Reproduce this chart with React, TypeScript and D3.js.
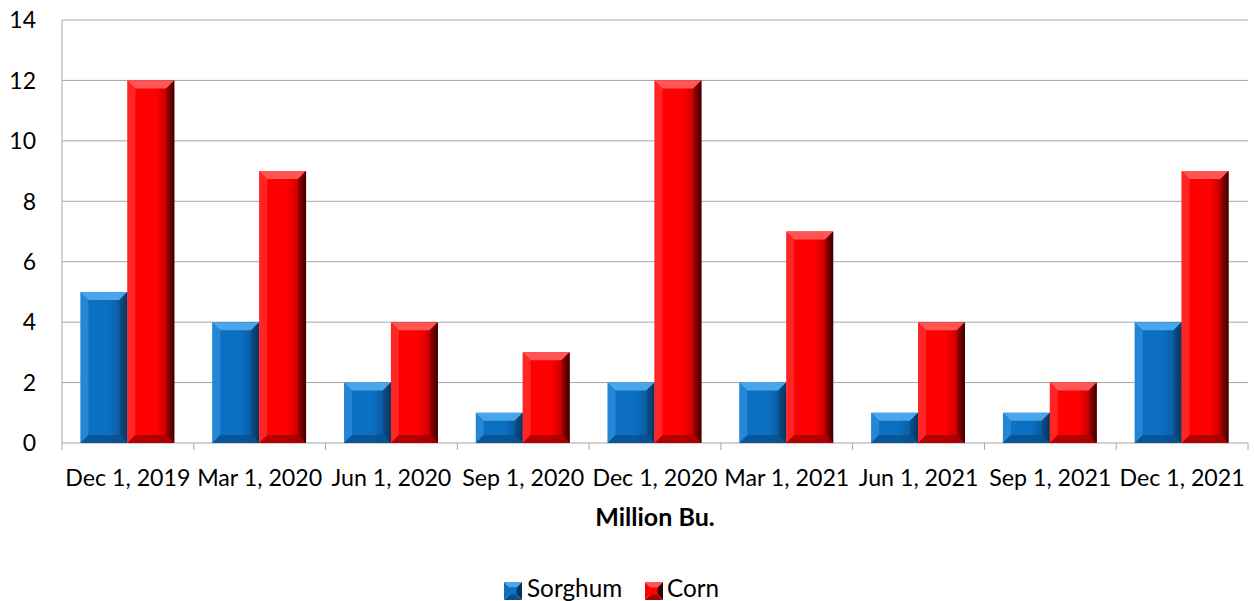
import React from "react";
import * as d3 from "d3";

const categories = ["Dec 1, 2019", "Mar 1, 2020", "Jun 1, 2020", "Sep 1, 2020", "Dec 1, 2020", "Mar 1, 2021", "Jun 1, 2021", "Sep 1, 2021", "Dec 1, 2021"];
const sorghum = [5, 4, 2, 1, 2, 2, 1, 1, 4];
const corn = [12, 9, 4, 3, 12, 7, 4, 2, 9];
const yTicks = [0, 2, 4, 6, 8, 10, 12, 14];
const seriesNames = ["Sorghum", "Corn"];

const W = 1254, H = 601;
const left = 62, right = 1248, top = 20, bottom = 443;
const FONT = "Lato, 'Open Sans', sans-serif";

const palettes = [
  { main: "#0b6fc2", light: "#3d9de6", lighter: "#4aa6ea", dark: "#0a4f8a", darker: "#07355e" },
  { main: "#ff0000", light: "#ff4a4a", lighter: "#ff5555", dark: "#a30000", darker: "#3a0000" },
];

function Bevel({ x, y, w, h, p, id }: any) {
  const b = Math.min(8, h / 2, w / 2);
  const x1 = x + w, y1 = y + h;
  const poly = (pts: number[][]) => pts.map((q) => q.join(",")).join(" ");
  return (
    <g>
      <rect x={x} y={y} width={w} height={h} fill={`url(#face${id})`} />
      <polygon points={poly([[x, y], [x1, y], [x1 - b, y + b], [x + b, y + b]])} fill={p.lighter} />
      <polygon points={poly([[x, y], [x + b, y + b], [x + b, y1 - b], [x, y1]])} fill={p.light} opacity={0.5} />
      <polygon points={poly([[x1, y], [x1, y1], [x1 - b, y1 - b], [x1 - b, y + b]])} fill={`url(#edge${id})`} />
      <polygon points={poly([[x, y1], [x + b, y1 - b], [x1 - b, y1 - b], [x1, y1]])} fill={p.dark} opacity={0.8} />
    </g>
  );
}

function LegendKey({ x, y, s, p, id }: any) {
  const poly = (pts: number[][]) => pts.map((q) => q.join(",")).join(" ");
  const c = [x + s / 2, y + s / 2];
  return (
    <g>
      <polygon points={poly([[x, y], [x + s, y], c])} fill={p.lighter} />
      <polygon points={poly([[x + s, y], [x + s, y + s], c])} fill={p.darker} />
      <polygon points={poly([[x, y + s], [x + s, y + s], c])} fill={p.dark} />
      <polygon points={poly([[x, y], [x, y + s], c])} fill={p.main} />
      <rect x={x + s * 0.3} y={y + s * 0.3} width={s * 0.4} height={s * 0.4} fill={p.main} />
    </g>
  );
}

export default function App() {
  const x = d3.scaleBand<string>().domain(categories).range([left, right]).padding(0);
  const bw = x.bandwidth();
  const inner = d3.scaleBand<string>().domain(seriesNames).range([18.5, bw - 19.5]).padding(0);
  const y = d3.scaleLinear().domain([0, 14]).range([bottom, top]);
  const data = [sorghum, corn];

  return (
    <svg width={W} height={H} style={{ position: "absolute", left: 0, top: 0 }} fontFamily={FONT}>
      <defs>
        {palettes.map((p, i) => (
          <g key={i}>
            <linearGradient id={`face${i}`} x1="0" x2="1" y1="0" y2="0">
              <stop offset="0" stopColor={p.main} />
              <stop offset="0.6" stopColor={p.main} />
              <stop offset="1" stopColor={p.dark} />
            </linearGradient>
            <linearGradient id={`edge${i}`} x1="0" x2="1" y1="0" y2="0">
              <stop offset="0" stopColor={p.dark} />
              <stop offset="1" stopColor={p.darker} />
            </linearGradient>
          </g>
        ))}
      </defs>
      <rect width={W} height={H} fill="#fff" />
      {yTicks.map((t) => (
        <g key={t}>
          <line x1={left} x2={right} y1={y(t)} y2={y(t)} stroke="#a6a6a6" strokeWidth={1} />
          <text x={36} y={y(t)} dy="0.36em" textAnchor="end" fontSize={23} fill="#000">{t}</text>
        </g>
      ))}
      <line x1={left} x2={left} y1={top} y2={bottom} stroke="#a6a6a6" />
      {categories.map((c) => (
        <line key={c} x1={x(c)!} x2={x(c)!} y1={bottom} y2={bottom + 7} stroke="#a6a6a6" />
      ))}
      <line x1={right} x2={right} y1={bottom} y2={bottom + 7} stroke="#a6a6a6" />
      {categories.map((c, i) =>
        data.map((s, j) => {
          const bx = x(c)! + inner(seriesNames[j])!;
          const by = y(s[i]);
          return <Bevel key={c + j} x={bx} y={by} w={inner.bandwidth()} h={bottom - by} p={palettes[j]} id={j} />;
        })
      )}
      {categories.map((c) => (
        <text key={c} x={x(c)! + bw / 2} y={485.5} textAnchor="middle" fontSize={23.2} fill="#000">{c}</text>
      ))}
      <text x={655} y={526} textAnchor="middle" fontSize={25} fontWeight="bold" fill="#000">Million Bu.</text>
      <g>
        <LegendKey x={504} y={582} s={18} p={palettes[0]} />
        <text x={527} y={597} fontSize={24.3} fill="#000">Sorghum</text>
        <LegendKey x={645} y={582} s={18} p={palettes[1]} />
        <text x={667} y={597} fontSize={24.3} fill="#000">Corn</text>
      </g>
    </svg>
  );
}
